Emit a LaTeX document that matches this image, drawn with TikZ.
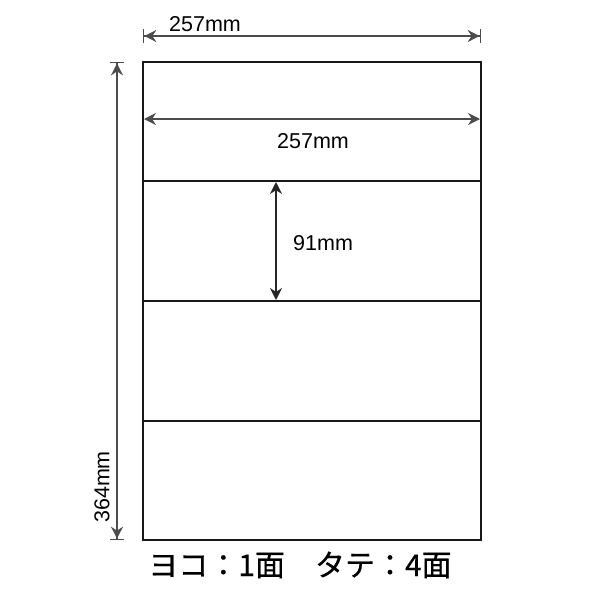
\documentclass[tikz,border=0pt]{standalone}
\usepackage{fontspec}
\setmainfont{Liberation Sans}
\newfontfamily\jpfont[FakeBold=0.4]{Noto Sans CJK JP}
\usetikzlibrary{arrows.meta, positioning}

\begin{document}
\begin{tikzpicture}[
        x=1pt, y=-1pt,
        every node/.style={font=\fontsize{21.5}{21.5}\selectfont, inner sep=0pt},
        sheet/.style={draw=black!90, line width=2pt},
        dimbar/.style={draw=black!70, line width=1.3pt, {Bar[width=14pt]Stealth[length=12pt,width=12pt]}-{Stealth[length=12pt,width=12pt]Bar[width=14pt]}},
        dimarrow/.style={draw=black!85, line width=1.8pt, {Stealth[length=12pt,width=12pt]}-{Stealth[length=12pt,width=12pt]}},
        count/.style={font=\jpfont\fontsize{30}{30}\selectfont}
    ]
        \useasboundingbox (0,0) rectangle (600,600);

        % Sheet
        \coordinate (sheetTL) at (143,62);
        \coordinate (sheetBR) at (481,540);
        \draw[sheet] (sheetTL) rectangle (sheetBR);

        % Label rows
        \foreach \y in {181,301,421}
            \draw[sheet] (143,\y) -- (481,\y);

        % Sheet width
        \coordinate (topL) at (143,36);
        \coordinate (topR) at (481,36);
        \draw[dimbar] (topL) -- (topR);
        \node (sheetW) at (205,24) {257mm};

        % Sheet height
        \coordinate (leftT) at (117,62);
        \coordinate (leftB) at (117,540);
        \draw[dimbar] (leftT) -- (leftB);
        \node[rotate=90] (sheetH) at (102,487) {364mm};

        % Label width
        \coordinate (labelL) at (144,119);
        \coordinate (labelR) at (480,119);
        \draw[dimbar, {Stealth[length=12pt,width=12pt]}-{Stealth[length=12pt,width=12pt]}] (labelL) -- (labelR);
        \node (labelW) at (313,141) {257mm};

        % Label height
        \coordinate (labelT) at (276,182);
        \coordinate (labelB) at (276,300);
        \draw[dimarrow] (labelT) -- (labelB);
        \node[right=17pt of labelT, yshift=-61pt] (labelH) {91mm};

        % Layout
        \node[count] (layout) at (300,565) {ヨコ：1面　タテ：4面};

    \end{tikzpicture}
\end{document}
